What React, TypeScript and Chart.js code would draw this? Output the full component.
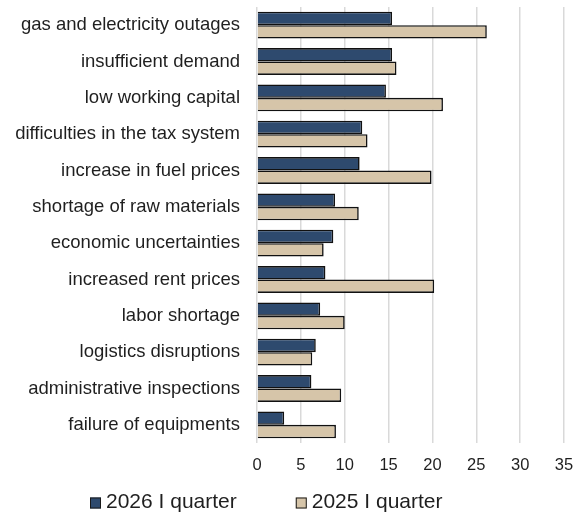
import React, { useEffect, useRef } from "react";
import { Chart, registerables } from "chart.js";

Chart.register(...registerables);

const categories = [
  "gas and electricity outages",
  "insufficient demand",
  "low working capital",
  "difficulties in the tax system",
  "increase in fuel prices",
  "shortage of raw materials",
  "economic uncertainties",
  "increased rent prices",
  "labor shortage",
  "logistics disruptions",
  "administrative inspections",
  "failure of equipments",
];

const series2026 = [15.4, 15.4, 14.7, 12.0, 11.7, 8.9, 8.7, 7.8, 7.2, 6.7, 6.2, 3.1];
const series2025 = [26.2, 15.9, 21.2, 12.6, 19.9, 11.6, 7.6, 20.2, 10.0, 6.3, 9.6, 9.0];
const seriesLabels = ["2026 I quarter", "2025 I quarter"];
const xMin = 0;
const xMax = 35;
const xStep = 5;

const FONT = '"Liberation Sans", Arial, Helvetica, sans-serif';
const TEXT = "#1f1f1f";
const NAVY = "#2E4A6E";
const TAN = "#D6C5A9";

const legendPlugin = {
  id: "bottomLegend",
  afterDraw(chart: any) {
    const ctx = chart.ctx;
    ctx.save();
    ctx.font = `21px ${FONT}`;
    ctx.textBaseline = "alphabetic";
    let x = 90;
    const baseY = 508;
    const box = 11;
    chart.data.datasets.forEach((ds: any) => {
      ctx.fillStyle = ds.backgroundColor;
      ctx.fillRect(x, baseY - box + 0.5, box, box);
      ctx.strokeStyle = "#1a1a1a";
      ctx.lineWidth = 1;
      ctx.strokeRect(x + 0.5, baseY - box + 1, box - 1, box - 1);
      ctx.fillStyle = TEXT;
      ctx.fillText(ds.label, x + 16, baseY);
      x += 16 + ctx.measureText(ds.label).width + 59;
    });
    ctx.restore();
  },
};

export default function App() {
  const ref = useRef<HTMLCanvasElement>(null);

  useEffect(() => {
    document.body.style.margin = "0";
    const chart = new Chart(ref.current!, {
      type: "bar",
      data: {
        labels: categories,
        datasets: [
          {
            label: seriesLabels[0],
            data: series2026,
            backgroundColor: NAVY,
            borderColor: "#111111",
            borderWidth: 1.6,
            categoryPercentage: 0.74,
            barPercentage: 1,
          },
          {
            label: seriesLabels[1],
            data: series2025,
            backgroundColor: TAN,
            borderColor: "#111111",
            borderWidth: 1.6,
            categoryPercentage: 0.74,
            barPercentage: 1,
          },
        ],
      },
      options: {
        indexAxis: "y",
        animation: false,
        responsive: false,
        maintainAspectRatio: false,
        layout: { padding: { top: 7, right: 24, bottom: 36, left: 0 } },
        plugins: {
          legend: { display: false },
          tooltip: { enabled: false },
        },
        scales: {
          x: {
            min: xMin,
            max: xMax,
            ticks: {
              stepSize: xStep,
              font: { size: 16.5, family: FONT },
              color: TEXT,
              padding: 13,
            },
            grid: { color: "#D9D9D9", lineWidth: 1.5, drawTicks: false },
            border: { display: false },
            afterFit: (s: any) => {
              s.height = 37;
              s.paddingLeft = 0;
              s.paddingRight = 0;
              s.paddingTop = 0;
              s.paddingBottom = 0;
            },
          },
          y: {
            grid: { display: false, drawTicks: false },
            border: { display: false },
            ticks: {
              font: { size: 18.5, family: FONT },
              color: TEXT,
              padding: 17,
            },
            afterFit: (s: any) => {
              s.width = 257;
              s.paddingLeft = 0;
              s.paddingRight = 0;
              s.paddingTop = 0;
              s.paddingBottom = 0;
            },
          },
        },
      },
      plugins: [legendPlugin],
    } as any);
    return () => chart.destroy();
  }, []);

  return (
    <div style={{ width: 588, height: 516 }}>
      <canvas ref={ref} width={588} height={516} style={{ display: "block" }} />
    </div>
  );
}
